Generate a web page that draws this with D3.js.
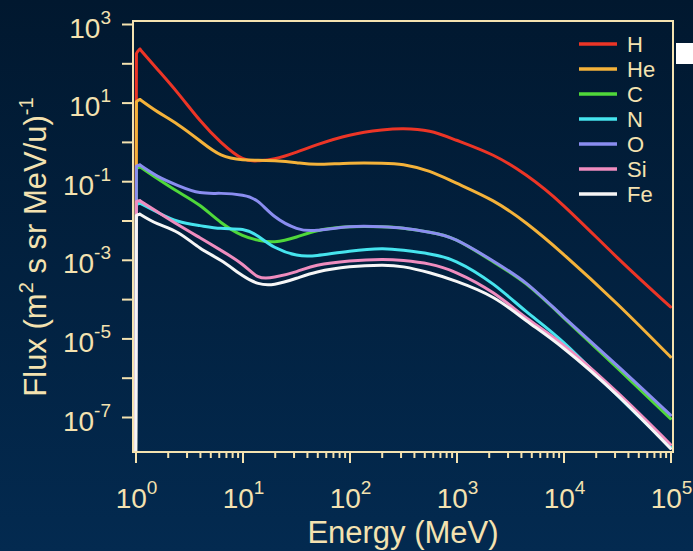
<!DOCTYPE html>
<html>
<head>
<meta charset="utf-8">
<script src="https://cdn.jsdelivr.net/npm/d3@7"></script>
<style>
  html, body { margin: 0; padding: 0; background: #021d38; }
  svg { display: block; }
</style>
</head>
<body>
<script>
// Kinetic energy grid (MeV/u) shared by every species
const energy = [1, 1.02, 1.1, 1.6, 2.5, 4, 6.3, 10, 14, 20, 32, 50, 100, 200, 320, 560, 1000, 2200, 4500, 1e4, 3.2e4, 1e5];

// Differential flux, (m^2 s sr MeV/u)^-1; the first entry sits below the plotted range
const fluxH  = [1e-9, 178, 229, 70.8, 17.2, 3.55, 0.977, 0.380, 0.331, 0.372, 0.550, 0.851, 1.48, 2.00, 2.16, 1.86, 1.10, 0.457, 0.141, 0.0240, 1.12e-3, 6.31e-5];
const fluxHe = [1e-9, 10.5, 12.0, 5.89, 2.75, 1.07, 0.468, 0.351, 0.343, 0.331, 0.295, 0.269, 0.288, 0.288, 0.263, 0.178, 0.0891, 0.0316, 8.51e-3, 1.38e-3, 7.41e-5, 3.39e-6];
const fluxC  = [1e-9, 0.209, 0.234, 0.117, 0.0537, 0.0240, 8.91e-3, 4.17e-3, 3.16e-3, 2.88e-3, 3.80e-3, 5.50e-3, 6.92e-3, 6.92e-3, 6.31e-3, 5.01e-3, 3.16e-3, 8.91e-4, 2.40e-4, 3.39e-5, 1.74e-6, 9.12e-8];
const fluxN  = [1e-9, 0.0251, 0.0275, 0.0162, 9.55e-3, 7.41e-3, 6.31e-3, 5.89e-3, 3.98e-3, 2.09e-3, 1.32e-3, 1.29e-3, 1.66e-3, 1.91e-3, 1.74e-3, 1.41e-3, 8.91e-4, 2.40e-4, 4.79e-5, 7.94e-6, 3.55e-7, 1.74e-8];
const fluxO  = [1e-9, 0.240, 0.257, 0.135, 0.0776, 0.0513, 0.0490, 0.0437, 0.0302, 0.0126, 6.31e-3, 5.62e-3, 6.92e-3, 6.92e-3, 6.31e-3, 5.01e-3, 3.16e-3, 9.33e-4, 2.51e-4, 3.55e-5, 2.00e-6, 1.12e-7];
const fluxSi = [1e-9, 0.0302, 0.0316, 0.0166, 7.76e-3, 3.63e-3, 1.74e-3, 7.59e-4, 3.72e-4, 3.63e-4, 5.01e-4, 7.24e-4, 9.33e-4, 1.02e-3, 9.55e-4, 7.76e-4, 4.68e-4, 1.45e-4, 3.31e-5, 6.76e-6, 4.17e-7, 2.00e-8];
const fluxFe = [1e-9, 0.0135, 0.0145, 8.32e-3, 4.90e-3, 2.00e-3, 9.55e-4, 3.98e-4, 2.51e-4, 2.40e-4, 3.39e-4, 4.90e-4, 6.61e-4, 7.24e-4, 6.61e-4, 4.68e-4, 2.82e-4, 1.10e-4, 2.82e-5, 5.62e-6, 3.55e-7, 1.58e-8];

const speciesNames  = ["H", "He", "C", "N", "O", "Si", "Fe"];
const speciesColors = ["#ec3526", "#f4b23a", "#4fd83a", "#46e4ee", "#8a8df0", "#ef8dbf", "#f6f6f6"];
const speciesFlux   = [fluxH, fluxHe, fluxC, fluxN, fluxO, fluxSi, fluxFe];

// Axis ticks and labels
const xMajorTicks = [1, 10, 100, 1e3, 1e4, 1e5];
const xTickExponents = ["0", "1", "2", "3", "4", "5"];
const yMajorTicks = [1e3, 1e2, 10, 1, 0.1, 1e-2, 1e-3, 1e-4, 1e-5, 1e-6, 1e-7];
const yLabelTicks = [1e3, 10, 0.1, 1e-3, 1e-5, 1e-7];
const yTickExponents = ["3", "1", "-1", "-3", "-5", "-7"];

const W = 693, H = 551;
const box = { left: 133, right: 673, top: 21, bottom: 452 };
const ink = "#f4e2b0";
const font = "'Liberation Sans', Arial, Helvetica, sans-serif";

const svg = d3.select("body").append("svg")
  .attr("width", W).attr("height", H)
  .style("font-family", font);

const defs = svg.append("defs");
const grad = defs.append("linearGradient").attr("id", "bg")
  .attr("x1", 0).attr("y1", 0).attr("x2", 0).attr("y2", 1);
grad.append("stop").attr("offset", "0%").attr("stop-color", "#01182f");
grad.append("stop").attr("offset", "100%").attr("stop-color", "#032a50");
defs.append("clipPath").attr("id", "plotClip")
  .append("rect")
  .attr("x", box.left).attr("y", box.top)
  .attr("width", box.right - box.left).attr("height", box.bottom - box.top);

svg.append("rect").attr("width", W).attr("height", H).attr("fill", "url(#bg)");

// Small white tab at the right edge of the slide
svg.append("rect").attr("x", 676).attr("y", 43).attr("width", 17).attr("height", 21).attr("fill", "#ffffff");

const x = d3.scaleLog().domain([1, 1e5]).range([135.5, 670.5]);
const y = d3.scaleLog().domain([1e-7, 1e3]).range([417, 24]);

// Curves: sharp onset at 1 MeV rounded into the peak, then a natural spline onward
const points = f => f.map((v, i) => [x(energy[i]), y(v)]);
const onset = d3.line().curve(d3.curveMonotoneX);
const spline = d3.line().curve(d3.curveNatural);

const curves = svg.append("g").attr("clip-path", "url(#plotClip)");
speciesFlux.forEach((f, k) => {
  const p = points(f);
  const g = curves.append("g")
    .attr("fill", "none")
    .attr("stroke", speciesColors[k])
    .attr("stroke-width", 3)
    .attr("stroke-linejoin", "round")
    .attr("stroke-linecap", "round");
  g.append("path").attr("d", onset(p.slice(0, 3)));
  g.append("path").attr("d", spline(p.slice(2)));
});

// Frame
svg.append("rect")
  .attr("x", box.left).attr("y", box.top)
  .attr("width", box.right - box.left).attr("height", box.bottom - box.top)
  .attr("fill", "none").attr("stroke", ink).attr("stroke-width", 2);

// Y axis ticks
const yAxis = d3.axisLeft(y).tickValues(yMajorTicks).tickSize(11).tickFormat("");
const gy = svg.append("g").attr("transform", `translate(${box.left},0)`).call(yAxis);
gy.select(".domain").remove();
gy.selectAll("line").attr("stroke", ink).attr("stroke-width", 2);

// Y tick labels as 10^n
yLabelTicks.forEach((v, i) => {
  const t = svg.append("text")
    .attr("x", 111).attr("y", y(v) + 13.5)
    .attr("text-anchor", "end")
    .attr("fill", ink).attr("font-size", 28);
  t.append("tspan").text("10");
  t.append("tspan").attr("dy", -14).attr("font-size", 19).text(yTickExponents[i]);
});

// X axis ticks: decades and minor ticks
const xMinorTicks = [];
for (let d = 1; d < 1e5; d *= 10) for (let m = 2; m <= 9; m++) xMinorTicks.push(d * m);
const gxMinor = svg.append("g").attr("transform", `translate(0,${box.bottom})`)
  .call(d3.axisBottom(x).tickValues(xMinorTicks).tickSize(6).tickFormat(""));
const gxMajor = svg.append("g").attr("transform", `translate(0,${box.bottom})`)
  .call(d3.axisBottom(x).tickValues(xMajorTicks).tickSize(11).tickFormat(""));
[gxMinor, gxMajor].forEach(g => {
  g.select(".domain").remove();
  g.selectAll("line").attr("stroke", ink).attr("stroke-width", 2);
});

xMajorTicks.forEach((v, i) => {
  const t = svg.append("text")
    .attr("x", x(v) + 1).attr("y", 508)
    .attr("text-anchor", "middle")
    .attr("fill", ink).attr("font-size", 28);
  t.append("tspan").text("10");
  t.append("tspan").attr("dy", -14).attr("font-size", 19).text(xTickExponents[i]);
});

// Axis titles
svg.append("text")
  .attr("x", (box.left + box.right) / 2).attr("y", 543)
  .attr("text-anchor", "middle")
  .attr("fill", ink).attr("font-size", 31)
  .text("Energy (MeV)");

const yt = svg.append("text")
  .attr("transform", `translate(46,247) rotate(-90)`)
  .attr("text-anchor", "middle")
  .attr("fill", ink).attr("font-size", 31);
yt.append("tspan").text("Flux (m");
yt.append("tspan").attr("dy", -13).attr("font-size", 20).text("2");
yt.append("tspan").attr("dy", 13).text(" s sr MeV/u)");
yt.append("tspan").attr("dy", -13).attr("font-size", 20).text("-1");

// Legend
const legend = svg.append("g");
speciesNames.forEach((name, k) => {
  const ly = 44 + k * 25;
  legend.append("line")
    .attr("x1", 579).attr("x2", 617).attr("y1", ly).attr("y2", ly)
    .attr("stroke", speciesColors[k]).attr("stroke-width", 3.5);
  legend.append("text")
    .attr("x", 627).attr("y", ly + 7.5)
    .attr("fill", ink).attr("font-size", 22)
    .text(name);
});
</script>
</body>
</html>
